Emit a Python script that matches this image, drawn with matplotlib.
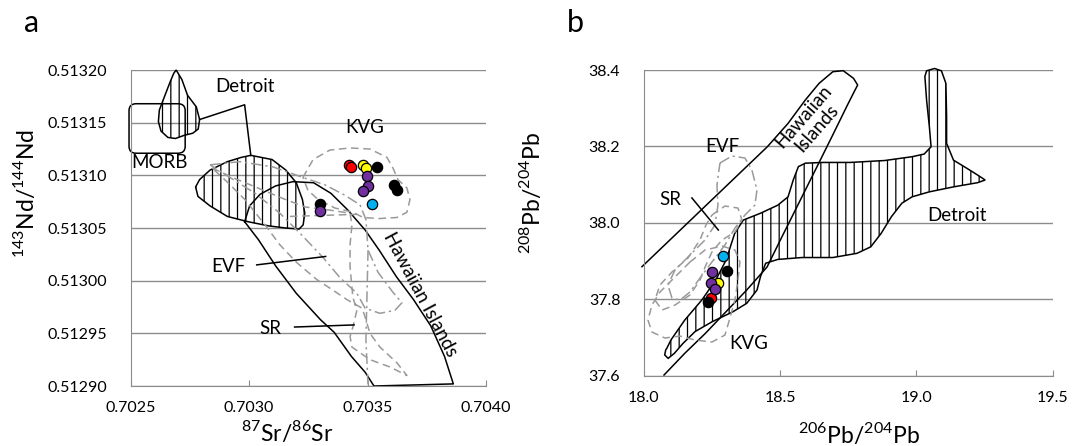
import matplotlib
matplotlib.use('Agg')
import matplotlib.pyplot as plt
from matplotlib.patches import FancyBboxPatch

plt.rcParams['font.family'] = ['Lato', 'DejaVu Sans']
plt.rcParams['mathtext.fontset'] = 'custom'
plt.rcParams['mathtext.rm'] = 'Lato'
plt.rcParams['hatch.linewidth'] = 0.9

GRID = '#8c8c8c'
DASH_GREY = '#9a9a9a'

# ---------------- panel a : Sr-Nd ----------------
a_xticks = [0.7025, 0.7030, 0.7035, 0.7040]
a_xlabels = ['0.7025', '0.7030', '0.7035', '0.7040']
a_yticks = [0.51290, 0.51295, 0.51300, 0.51305, 0.51310, 0.51315, 0.51320]
a_ylabels = ['0.51290', '0.51295', '0.51300', '0.51305', '0.51310', '0.51315', '0.51320']

# sample points (87Sr/86Sr, 143Nd/144Nd)
a_red_sr = [0.703423, 0.703430]
a_red_nd = [0.513110, 0.513108]
a_yellow_sr = [0.703482, 0.703492]
a_yellow_nd = [0.513110, 0.513107]
a_purple_sr = [0.703499, 0.703503, 0.703482, 0.703299]
a_purple_nd = [0.513099, 0.513090, 0.513085, 0.513066]
a_blue_sr = [0.703517]
a_blue_nd = [0.513073]
a_black_sr = [0.703538, 0.703611, 0.703623, 0.703299]
a_black_nd = [0.513108, 0.513091, 0.513086, 0.513073]

# fields
a_detroit_small_x = [0.702692, 0.702716, 0.702740, 0.702777, 0.702791, 0.702785, 0.702762, 0.702726,
                     0.702689, 0.702657, 0.702628, 0.702617, 0.702621, 0.702643, 0.702667, 0.702682]
a_detroit_small_y = [0.513200, 0.513191, 0.513176, 0.513165, 0.513153, 0.513144, 0.513140, 0.513138,
                     0.513135, 0.513136, 0.513142, 0.513151, 0.513162, 0.513175, 0.513189, 0.513197]
a_detroit_big_x = [0.703007, 0.703097, 0.703155, 0.703199, 0.703225, 0.703235, 0.703228, 0.703211, 0.703155,
                   0.703083, 0.702995, 0.702908, 0.702835, 0.702784, 0.702774, 0.702791, 0.702835, 0.702908, 0.702966]
a_detroit_big_y = [0.513119, 0.513115, 0.513105, 0.513093, 0.513077, 0.513064, 0.513053, 0.513049, 0.513050,
                   0.513052, 0.513056, 0.513061, 0.513071, 0.513080, 0.513089, 0.513096, 0.513105, 0.513113, 0.513117]
a_detroit_link_x = [0.702791, 0.702981, 0.703007]
a_detroit_link_y = [0.513153, 0.513167, 0.513119]
a_morb_x = [0.702493, 0.702730]
a_morb_y = [0.513121, 0.513168]
a_hawaii_x = [0.702981, 0.703002, 0.703046, 0.703112, 0.703184, 0.703272, 0.703345, 0.703417, 0.703490,
              0.703549, 0.703621, 0.703694, 0.703767, 0.703825, 0.703862, 0.703527, 0.703490, 0.703432,
              0.703359, 0.703301, 0.703199, 0.703112, 0.703039]
a_hawaii_y = [0.513056, 0.513071, 0.513082, 0.513090, 0.513094, 0.513093, 0.513083, 0.513067, 0.513048,
              0.513029, 0.513004, 0.512982, 0.512957, 0.512928, 0.512902, 0.512900, 0.512913, 0.512928,
              0.512951, 0.512963, 0.512988, 0.513014, 0.513039]
a_sr_x = [0.702843, 0.702940, 0.703037, 0.703143, 0.703236, 0.703341, 0.703426, 0.703434, 0.703426, 0.703426,
          0.703438, 0.703455, 0.703438, 0.703426, 0.703434, 0.703510, 0.703595, 0.703666, 0.703624, 0.703552,
          0.703510, 0.703489, 0.703476, 0.703413, 0.703354, 0.703286, 0.703202, 0.703130, 0.703067, 0.702982,
          0.702911]
a_sr_y = [0.513107, 0.513097, 0.513088, 0.513078, 0.513070, 0.513067, 0.513064, 0.513053, 0.513034, 0.513013,
          0.512984, 0.512972, 0.512956, 0.512947, 0.512937, 0.512925, 0.512918, 0.512910, 0.512922, 0.512937,
          0.512950, 0.512966, 0.512974, 0.512982, 0.512991, 0.513001, 0.513017, 0.513034, 0.513053, 0.513077,
          0.513093]
a_evf_x = [0.702835, 0.702961, 0.703101, 0.703227, 0.703320, 0.703405, 0.703468, 0.703493, 0.703502, 0.703544,
           0.703607, 0.703645, 0.703616, 0.703552, 0.703489, 0.703455, 0.703383, 0.703312, 0.703215, 0.703130,
           0.703025, 0.702919]
a_evf_y = [0.513110, 0.513113, 0.513108, 0.513098, 0.513091, 0.513081, 0.513072, 0.513058, 0.513029, 0.513008,
           0.512989, 0.512979, 0.512972, 0.512969, 0.512974, 0.512988, 0.513003, 0.513022, 0.513045, 0.513064,
           0.513083, 0.513098]
a_evf_tail_x = [0.703502, 0.703497, 0.703493, 0.703502]
a_evf_tail_y = [0.513029, 0.512982, 0.512944, 0.512900]
a_kvg_x = [0.703227, 0.703270, 0.703341, 0.703426, 0.703510, 0.703582, 0.703607, 0.703628, 0.703666, 0.703679,
           0.703666, 0.703624, 0.703552, 0.703481, 0.703438, 0.703362, 0.703291, 0.703248]
a_kvg_y = [0.513098, 0.513115, 0.513124, 0.513126, 0.513125, 0.513117, 0.513107, 0.513096, 0.513088, 0.513077,
           0.513065, 0.513060, 0.513059, 0.513060, 0.513065, 0.513069, 0.513077, 0.513086]
a_kvg_line_x = [0.703172, 0.703455]
a_kvg_line_y = [0.513061, 0.513063]
a_evf_ptr_x = [0.703032, 0.703323]
a_evf_ptr_y = [0.513015, 0.513023]
a_sr_ptr_x = [0.703192, 0.703443]
a_sr_ptr_y = [0.512956, 0.512958]

# ---------------- panel b : Pb-Pb ----------------
b_xticks = [18.0, 18.5, 19.0, 19.5]
b_xlabels = ['18.0', '18.5', '19.0', '19.5']
b_yticks = [37.6, 37.8, 38.0, 38.2, 38.4]
b_ylabels = ['37.6', '37.8', '38.0', '38.2', '38.4']

b_red_x = [18.245]
b_red_y = [37.802]
b_yellow_x = [18.273]
b_yellow_y = [37.841]
b_purple_x = [18.248, 18.245, 18.261]
b_purple_y = [37.872, 37.843, 37.826]
b_blue_x = [18.289]
b_blue_y = [37.913]
b_black_x = [18.303, 18.236]
b_black_y = [37.874, 37.793]

b_hawaii_x = [17.9927, 18.2228, 18.4530, 18.5289, 18.5921, 18.6427, 18.6933, 18.7312, 18.7691, 18.7843,
              18.7716, 18.7438, 18.6958, 18.6351, 18.5617, 18.5036, 18.4517, 18.3771, 18.3012, 18.2254,
              18.1495, 18.0736]
b_hawaii_y = [37.8850, 38.0421, 38.1992, 38.2603, 38.3214, 38.3651, 38.3956, 38.3983, 38.3782, 38.3607,
              38.3433, 38.3040, 38.2341, 38.1469, 38.0421, 37.9592, 37.8841, 37.8239, 37.7671, 37.7104,
              37.6580, 37.6013]
b_detroit_x = [18.0837, 18.0989, 18.1495, 18.2127, 18.2633, 18.3012, 18.3329, 18.3645, 18.4277, 18.4910,
               18.5289, 18.5479, 18.5668, 18.5921, 18.6553, 18.7565, 18.8830, 18.9841, 19.0284, 19.0537,
               19.0474, 19.0373, 19.0310, 19.0373, 19.0664, 19.0917, 19.1081, 19.1107, 19.1107, 19.1360,
               19.1866, 19.2245, 19.2523, 19.2245, 19.1360, 19.0474, 18.9841, 18.9462, 18.9083, 18.8703,
               18.8324, 18.7818, 18.6933, 18.5795, 18.4910, 18.4467, 18.4277, 18.4150, 18.3771, 18.3265,
               18.2506, 18.1874, 18.1431, 18.1115, 18.0888, 18.0761, 18.0799]
b_detroit_y = [37.671, 37.693, 37.745, 37.798, 37.850, 37.902, 37.972, 38.007, 38.025, 38.046,
               38.068, 38.112, 38.147, 38.156, 38.158, 38.158, 38.163, 38.173, 38.180, 38.199,
               38.252, 38.321, 38.383, 38.398, 38.404, 38.398, 38.365, 38.278, 38.208, 38.164,
               38.142, 38.125, 38.112, 38.105, 38.094, 38.081, 38.068, 38.051, 38.016, 37.972,
               37.937, 37.920, 37.909, 37.909, 37.904, 37.894, 37.859, 37.824, 37.789, 37.767,
               37.741, 37.715, 37.684, 37.658, 37.645, 37.654, 37.667]
b_evf_x = [18.2789, 18.3229, 18.3706, 18.3963, 18.4147, 18.4073, 18.3706, 18.3339, 18.2972, 18.2495, 18.2055,
           18.1688, 18.1321, 18.1028, 18.0881, 18.1138, 18.1688, 18.2239, 18.2606, 18.2716, 18.2679]
b_evf_y = [38.1565, 38.1748, 38.1696, 38.1381, 38.0858, 38.0465, 38.0203, 37.9862, 37.9417, 37.8972, 37.8553,
           37.8186, 37.7977, 37.8029, 37.8370, 37.8763, 37.9155, 37.9548, 37.9941, 38.0465, 38.0987]
b_sr_x = [18.2495, 18.2972, 18.3450, 18.3596, 18.3339, 18.2862, 18.2495, 18.2275, 18.2055, 18.1688, 18.1138,
          18.0661, 18.0404, 18.0587, 18.1028, 18.1615, 18.2055, 18.2275]
b_sr_y = [38.0203, 38.0439, 38.0386, 38.0072, 37.9758, 37.9548, 37.9234, 37.8894, 37.8501, 37.8108, 37.7846,
          37.7715, 37.7977, 37.8370, 37.8710, 37.9077, 37.9548, 37.9941]
b_kvg_x = [18.1688, 18.2239, 18.2862, 18.3339, 18.3523, 18.3450, 18.3339, 18.3156, 18.2972, 18.2495, 18.1872,
           18.1321, 18.0771, 18.0294, 18.0147, 18.0294, 18.0587, 18.1028]
b_kvg_y = [37.8972, 37.9286, 37.9391, 37.9286, 37.8972, 37.8501, 37.7977, 37.7506, 37.7060, 37.6877, 37.6930,
           37.7034, 37.6982, 37.7139, 37.7453, 37.7846, 37.8186, 37.8501]
b_sr_ptr_x = [18.176, 18.273]
b_sr_ptr_y = [38.065, 37.981]


def closed(v):
    return list(v) + [v[0]]


def style_axes(ax):
    ax.spines['top'].set_visible(False)
    ax.spines['right'].set_visible(False)
    ax.spines['left'].set_color(GRID)
    ax.spines['bottom'].set_color(GRID)
    ax.grid(axis='y', color=GRID, lw=1.0)
    ax.set_axisbelow(True)
    ax.tick_params(axis='x', direction='in', length=4, color=GRID, pad=11, labelsize=11.5)
    ax.tick_params(axis='y', length=0, pad=17, labelsize=11.5)


def dots(ax, x, y, c):
    ax.scatter(x, y, s=55, c=c, edgecolors='black', linewidths=0.9, zorder=5, clip_on=False)


fig = plt.figure(figsize=(10.81, 4.46), dpi=100)
ax1 = fig.add_axes([0.1209, 0.1345, 0.3287, 0.7085])
ax2 = fig.add_axes([0.5957, 0.158, 0.3781, 0.685])

# ---- panel a
style_axes(ax1)
ax1.set_xlim(0.7025, 0.7040)
ax1.set_ylim(0.51290, 0.51320)
ax1.set_xticks(a_xticks)
ax1.set_xticklabels(a_xlabels)
ax1.set_yticks(a_yticks)
ax1.set_yticklabels(a_ylabels)

ax1.fill(a_detroit_small_x, a_detroit_small_y, facecolor='none', edgecolor='black', hatch='||', lw=1.1, clip_on=False)
ax1.fill(a_detroit_big_x, a_detroit_big_y, facecolor='none', edgecolor='black', hatch='||', lw=1.1)
ax1.plot(a_detroit_link_x, a_detroit_link_y, color='black', lw=1.1)
morb = FancyBboxPatch((a_morb_x[0], a_morb_y[0]), a_morb_x[1] - a_morb_x[0], a_morb_y[1] - a_morb_y[0],
                      boxstyle='round,pad=0,rounding_size=0.00003', mutation_aspect=0.217,
                      facecolor='none', edgecolor='black', lw=1.1, clip_on=False)
ax1.add_patch(morb)
ax1.plot(closed(a_hawaii_x), closed(a_hawaii_y), color='black', lw=1.1)
ax1.plot(closed(a_sr_x), closed(a_sr_y), color=DASH_GREY, lw=1.1, ls=(0, (5, 3)))
ax1.plot(closed(a_evf_x), closed(a_evf_y), color=DASH_GREY, lw=1.1, ls=(0, (7, 2.5, 1.5, 2.5)))
ax1.plot(a_evf_tail_x, a_evf_tail_y, color=DASH_GREY, lw=1.1, ls=(0, (7, 2.5, 1.5, 2.5)))
ax1.plot(closed(a_kvg_x), closed(a_kvg_y), color=DASH_GREY, lw=1.1, ls=(0, (5, 3)))
ax1.plot(a_kvg_line_x, a_kvg_line_y, color=DASH_GREY, lw=1.1, ls=(0, (5, 3)))
ax1.plot(a_evf_ptr_x, a_evf_ptr_y, color='black', lw=1.1)
ax1.plot(a_sr_ptr_x, a_sr_ptr_y, color='black', lw=1.1)

dots(ax1, a_red_sr, a_red_nd, '#ff0000')
dots(ax1, a_yellow_sr, a_yellow_nd, '#ffff00')
dots(ax1, a_black_sr, a_black_nd, 'black')
dots(ax1, a_purple_sr, a_purple_nd, '#7030a0')
dots(ax1, a_blue_sr, a_blue_nd, '#00b0f0')

ax1.text(0.702982, 0.513184, 'Detroit', fontsize=13.5, ha='center', va='center')
ax1.text(0.702622, 0.513112, 'MORB', fontsize=13.5, ha='center', va='center')
ax1.text(0.703487, 0.513145, 'KVG', fontsize=13.5, ha='center', va='center')
ax1.text(0.702913, 0.513013, 'EVF', fontsize=13.5, ha='center', va='center')
ax1.text(0.703090, 0.512955, 'SR', fontsize=13.5, ha='center', va='center')
ax1.text(0.703721, 0.512987, 'Hawaiian Islands', fontsize=13.5, ha='center', va='center',
         rotation=-62, rotation_mode='anchor')

ax1.set_xlabel(r'$^{87}$Sr/$^{86}$Sr', fontsize=16.5)
ax1.set_ylabel(r'$^{143}$Nd/$^{144}$Nd', fontsize=16.5)
ax1.xaxis.set_label_coords(0.441, -0.105)
ax1.yaxis.set_label_coords(-0.262, 0.61)

# ---- panel b
style_axes(ax2)
ax2.set_xlim(18.0, 19.5)
ax2.set_ylim(37.6, 38.4)
ax2.set_xticks(b_xticks)
ax2.set_xticklabels(b_xlabels)
ax2.set_yticks(b_yticks)
ax2.set_yticklabels(b_ylabels)

ax2.fill(b_detroit_x, b_detroit_y, facecolor='none', edgecolor='black', hatch='||', lw=1.1, clip_on=False)
ax2.plot(b_hawaii_x, b_hawaii_y, color='black', lw=1.1, clip_on=False)
ax2.plot(closed(b_evf_x), closed(b_evf_y), color=DASH_GREY, lw=1.1, ls=(0, (7, 2.5, 1.5, 2.5)))
ax2.plot(closed(b_sr_x), closed(b_sr_y), color=DASH_GREY, lw=1.1, ls=(0, (5, 3)))
ax2.plot(closed(b_kvg_x), closed(b_kvg_y), color=DASH_GREY, lw=1.1, ls=(0, (5, 3)))
ax2.plot(b_sr_ptr_x, b_sr_ptr_y, color='black', lw=1.1)

dots(ax2, b_red_x, b_red_y, '#ff0000')
dots(ax2, b_black_x, b_black_y, 'black')
dots(ax2, b_yellow_x, b_yellow_y, '#ffff00')
dots(ax2, b_purple_x, b_purple_y, '#7030a0')
dots(ax2, b_blue_x, b_blue_y, '#00b0f0')

ax2.text(18.095, 38.062, 'SR', fontsize=13.5, ha='center', va='center')
ax2.text(18.286, 38.201, 'EVF', fontsize=13.5, ha='center', va='center')
ax2.text(18.383, 37.685, 'KVG', fontsize=13.5, ha='center', va='center')
ax2.text(19.149, 38.018, 'Detroit', fontsize=13.5, ha='center', va='center')
ax2.text(18.609, 38.264, 'Hawaiian\nIslands', fontsize=13.5, ha='center', va='center',
         rotation=49, rotation_mode='anchor', linespacing=1.1)

ax2.set_xlabel(r'$^{206}$Pb/$^{204}$Pb', fontsize=16.5)
ax2.set_ylabel(r'$^{208}$Pb/$^{204}$Pb', fontsize=16.5)
ax2.xaxis.set_label_coords(0.526, -0.15)
ax2.yaxis.set_label_coords(-0.245, 0.597)

fig.text(0.029, 0.928, 'a', fontsize=22, ha='center', va='baseline')
fig.text(0.532, 0.928, 'b', fontsize=22, ha='center', va='baseline')

fig.savefig('out.png', dpi=100)
